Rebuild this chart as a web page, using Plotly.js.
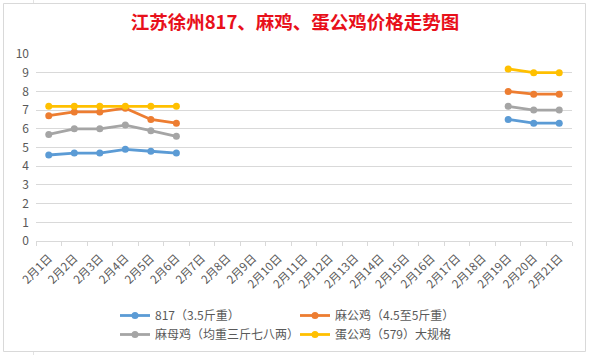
<!DOCTYPE html>
<html>
<head>
<meta charset="utf-8">
<script src="https://cdn.plot.ly/plotly-3.0.1.min.js"></script>
<style>html,body{margin:0;padding:0;background:#fff;}#chart{width:590px;height:355px;}</style>
</head>
<body>
<div id="chart"></div>
<script>
const categories = ["2月1日","2月2日","2月3日","2月4日","2月5日","2月6日","2月7日","2月8日","2月9日","2月10日","2月11日","2月12日","2月13日","2月14日","2月15日","2月16日","2月17日","2月18日","2月19日","2月20日","2月21日"];
const seriesNames = ["817（3.5斤重）","麻公鸡（4.5至5斤重）","麻母鸡（均重三斤七八两）","蛋公鸡（579）大规格"];
const s817 =      [4.6, 4.7, 4.7, 4.9, 4.8, 4.7, null,null,null,null,null,null,null,null,null,null,null,null, 6.5, 6.3, 6.3];
const maGongJi =  [6.7, 6.9, 6.9, 7.1, 6.5, 6.3, null,null,null,null,null,null,null,null,null,null,null,null, 8.0, 7.85, 7.85];
const maMuJi =    [5.7, 6.0, 6.0, 6.2, 5.9, 5.6, null,null,null,null,null,null,null,null,null,null,null,null, 7.2, 7.0, 7.0];
const danGongJi = [7.2, 7.2, 7.2, 7.2, 7.2, 7.2, null,null,null,null,null,null,null,null,null,null,null,null, 9.2, 9.0, 9.0];
const yTicks = [0,1,2,3,4,5,6,7,8,9,10];
const colors = ["#5B9BD5","#ED7D31","#A5A5A5","#FFC000"];
const titleText = "江苏徐州817、麻鸡、蛋公鸡价格走势图";

const allSeries = [s817, maGongJi, maMuJi, danGongJi];
const legendIds = ["legend","legend","legend2","legend2"];
const traces = allSeries.map((vals, i) => ({
  type: "scatter",
  mode: "lines+markers",
  x: categories,
  y: vals,
  name: seriesNames[i],
  legend: legendIds[i],
  connectgaps: false,
  line: {color: colors[i], width: 2.8},
  marker: {color: colors[i], size: 7},
  hoverinfo: "x+y"
}));

const W = 590, H = 355;
const m = {l: 36, r: 18, t: 54, b: 114};
const pw = W - m.l - m.r, ph = H - m.t - m.b;
function px2x(px){ return (px - m.l) / pw; }
function py2y(py){ return (H - m.b - py) / ph; }

function legendBox(topPx){
  return {
    orientation: "h",
    xref: "container", yref: "container",
    x: 115 / W, xanchor: "left",
    y: 1 - topPx / H, yanchor: "top",
    entrywidth: 135, entrywidthmode: "pixels",
    font: {size: 12, color: "#595959"},
    bgcolor: "rgba(0,0,0,0)",
    borderwidth: 0,
    traceorder: "normal"
  };
}

const layout = {
  width: W, height: H,
  margin: m,
  paper_bgcolor: "#ffffff",
  plot_bgcolor: "#ffffff",
  font: {family: "'Noto Sans CJK SC', 'Noto Sans', sans-serif", color: "#595959", size: 12},
  title: {
    text: titleText,
    font: {family: "'Noto Sans CJK SC', sans-serif", size: 18.5, color: "#E8101A", weight: "bold"},
    x: 0.5, xref: "container", xanchor: "center",
    y: 1 - 23/H, yref: "container", yanchor: "middle"
  },
  xaxis: {
    type: "category",
    categoryorder: "array",
    categoryarray: categories,
    range: [-0.5, categories.length - 0.5],
    showgrid: false,
    showline: true, linecolor: "#d9d9d9", linewidth: 1,
    ticks: "outside", tickson: "boundaries", ticklen: 4, tickcolor: "#d9d9d9",
    tickangle: -45,
    ticklabelstandoff: 5,
    tickfont: {size: 11.5, color: "#595959"},
    zeroline: false,
    fixedrange: true
  },
  yaxis: {
    range: [0, 10],
    tickvals: yTicks,
    ticktext: yTicks.map(String),
    showgrid: true, gridcolor: "#d9d9d9", gridwidth: 1,
    zeroline: false,
    showline: false,
    ticks: "",
    ticklabelstandoff: 6,
    tickfont: {size: 12, color: "#595959"},
    fixedrange: true
  },
  showlegend: true,
  legend: legendBox(301),
  legend2: legendBox(320),
  shapes: [
    {type: "rect", xref: "paper", yref: "paper", x0: px2x(3.5), x1: px2x(585.5), y0: py2y(351.5), y1: py2y(3.5), line: {color: "#d9d9d9", width: 1}, fillcolor: "rgba(0,0,0,0)", layer: "below"},
    {type: "line", xref: "paper", yref: "paper", x0: px2x(33.5), x1: px2x(33.5), y0: py2y(0), y1: py2y(3), line: {color: "#e3e3e3", width: 1}},
    {type: "line", xref: "paper", yref: "paper", x0: px2x(33.5), x1: px2x(33.5), y0: py2y(352), y1: py2y(355), line: {color: "#e3e3e3", width: 1}}
  ]
};

Plotly.newPlot("chart", traces, layout, {displayModeBar: false, staticPlot: true});
</script>
</body>
</html>
